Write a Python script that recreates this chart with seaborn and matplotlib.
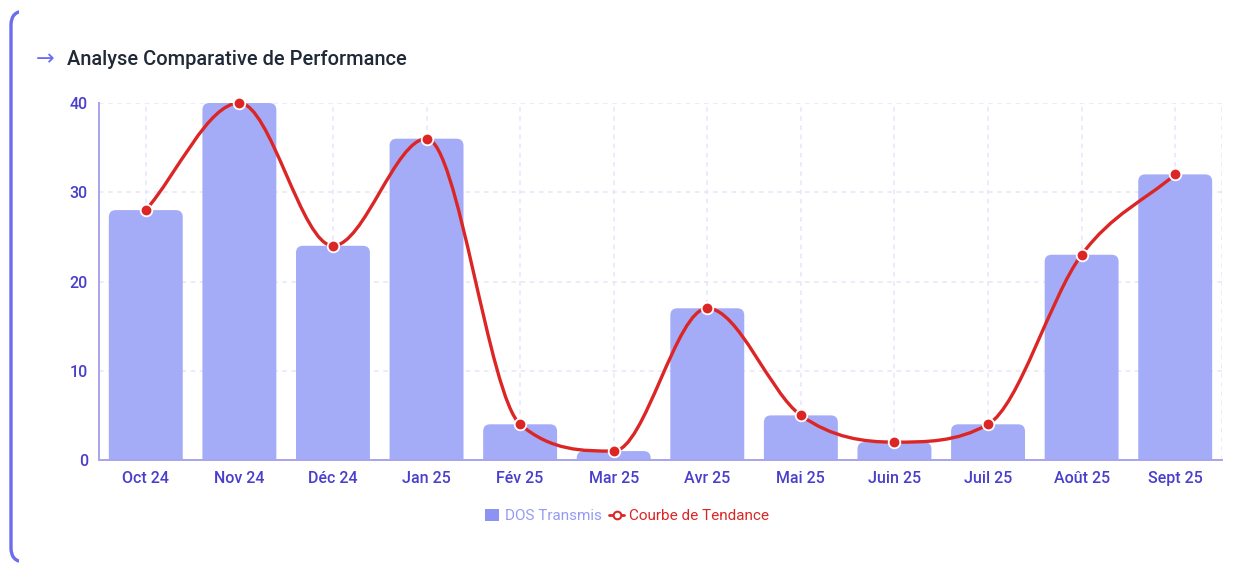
import numpy as np
import pandas as pd
import matplotlib
matplotlib.use("Agg")
import matplotlib.pyplot as plt
import seaborn as sns
from matplotlib.patches import FancyBboxPatch, Rectangle
from matplotlib.path import Path
from matplotlib.patches import PathPatch
from matplotlib.lines import Line2D
from matplotlib.transforms import Bbox

# ---- data ----
months = ["Oct 24", "Nov 24", "Déc 24", "Jan 25", "Fév 25", "Mar 25",
          "Avr 25", "Mai 25", "Juin 25", "Juil 25", "Août 25", "Sept 25"]
dos_transmis = [28, 40, 24, 36, 4, 1, 17, 5, 2, 4, 23, 32]
tendance = [28, 40, 24, 36, 4, 1, 17, 5, 2, 4, 23, 32]
y_ticks = [0, 10, 20, 30, 40]
title = "Analyse Comparative de Performance"
bar_label = "DOS Transmis"
line_label = "Courbe de Tendance"

BAR_C = "#a5acf7"
LINE_C = "#dc2626"
TICK_C = "#4a3fcc"
AXIS_C = "#a8a4ee"
GRID_C = "#e6e6fb"

sns.set_theme(style="white")
plt.rcParams['font.family'] = ['Roboto', 'DejaVu Sans']

W, H = 1244, 565
fig = plt.figure(figsize=(W / 100, H / 100), dpi=100)
fig.patch.set_facecolor("white")

# card left border (rounded)
card = FancyBboxPatch((11, 3), 1400, 551, boxstyle="round,pad=0,rounding_size=14",
                      transform=None, facecolor="none", edgecolor="#6b6cf2", lw=2.4)
fig.patches.append(card)
card.set_clip_box(Bbox.from_extents(0, 0, 19, H))

L, R, T, B = 99, 1222, 103, 460
ax = fig.add_axes([L / W, 1 - B / H, (R - L) / W, (B - T) / H])

df = pd.DataFrame({"mois": months, "val": dos_transmis})
sns.barplot(data=df, x="mois", y="val", color=BAR_C, saturation=1, width=0.79,
            ax=ax, zorder=2)

# round bar tops
px_per_x = (R - L) / len(months)
px_per_y = (B - T) / 40.0
aspect = px_per_x / px_per_y
rad_px = 7
old = [p for p in ax.patches]
for p in old:
    x0, w, h = p.get_x(), p.get_width(), p.get_height()
    rad = rad_px / px_per_x
    rp = FancyBboxPatch((x0, -3), w, h + 3,
                        boxstyle=f"round,pad=0,rounding_size={rad}",
                        mutation_aspect=aspect, facecolor=BAR_C, edgecolor="none",
                        zorder=2)
    ax.add_patch(rp)
    p.set_visible(False)

# monotone cubic trend curve (Fritsch-Carlson, as Chart.js 'monotone')
xs = np.arange(len(months), dtype=float)
ys = np.array(tendance, dtype=float)
n = len(xs)
dk = np.diff(ys) / np.diff(xs)
mk = np.zeros(n)
mk[0], mk[-1] = dk[0], dk[-1]
for i in range(1, n - 1):
    if dk[i - 1] == 0 or dk[i] == 0 or np.sign(dk[i - 1]) != np.sign(dk[i]):
        mk[i] = 0
    else:
        mk[i] = (dk[i - 1] + dk[i]) / 2
for i in range(n - 1):
    if dk[i] == 0:
        mk[i] = mk[i + 1] = 0
        continue
    a, b = mk[i] / dk[i], mk[i + 1] / dk[i]
    sq = a * a + b * b
    if sq > 9:
        tau = 3 / np.sqrt(sq)
        mk[i] = a * tau * dk[i]
        mk[i + 1] = b * tau * dk[i]
verts = [(xs[0], ys[0])]
codes = [Path.MOVETO]
for i in range(n - 1):
    dx = (xs[i + 1] - xs[i]) / 3
    verts += [(xs[i] + dx, ys[i] + mk[i] * dx),
              (xs[i + 1] - dx, ys[i + 1] - mk[i + 1] * dx),
              (xs[i + 1], ys[i + 1])]
    codes += [Path.CURVE4] * 3
path = Path(verts, codes)
ax.add_patch(PathPatch(path, facecolor="none", edgecolor=LINE_C, lw=2.4,
                       zorder=3, capstyle="round"))
sns.scatterplot(x=xs, y=ys, ax=ax, color=LINE_C, s=70, edgecolor="white",
                linewidth=1.3, zorder=4, legend=False, clip_on=False)

ax.set_xlim(-0.5, len(months) - 0.5)
ax.set_ylim(0, 40)
ax.set_yticks(y_ticks)
ax.set_xticks(range(len(months)))
ax.set_xticklabels(months)
ax.set_xlabel("")
ax.set_ylabel("")
if ax.get_legend() is not None:
    ax.get_legend().remove()

for s in ["top", "right"]:
    ax.spines[s].set_visible(False)
for s in ["left", "bottom"]:
    ax.spines[s].set_color(AXIS_C)
    ax.spines[s].set_linewidth(1.4)
ax.tick_params(axis="both", colors=AXIS_C, length=5, width=1.2, labelcolor=TICK_C,
               labelsize=11.5, pad=3)
for lab in ax.get_xticklabels() + ax.get_yticklabels():
    lab.set_fontweight("medium")

# grid
ax.grid(False)
for v in y_ticks[1:]:
    ax.axhline(v, color=GRID_C, lw=1.1, ls=(0, (3, 3)), zorder=1)
for i in range(len(months)):
    ax.axvline(i, color=GRID_C, lw=1.1, ls=(0, (3, 3)), zorder=1)
ax.axvline(len(months) - 0.5, color=GRID_C, lw=1.1, ls=(0, (3, 3)), zorder=1)

# title
fig.text(36 / W, 1 - 59 / H, "→", color="#6b6cf2", fontsize=16, va="center",
         ha="left", family=["DejaVu Sans"])
fig.text(67 / W, 1 - 60 / H, title, color="#1f2937", fontsize=14.4, va="center",
         ha="left", fontweight="medium")

# legend
handles = [
    Rectangle((0, 0), 1, 1, facecolor="#8d93f3", edgecolor="none"),
    Line2D([0], [0], color=LINE_C, lw=2, marker="o", markersize=5.5,
           markerfacecolor="white", markeredgecolor=LINE_C, markeredgewidth=1.5),
]
leg = fig.legend(handles, [bar_label, line_label], loc="center",
                 bbox_to_anchor=(627 / W, 1 - 516 / H), ncol=2, frameon=False,
                 fontsize=11, handlelength=0.95, handleheight=0.9,
                 handletextpad=0.35, columnspacing=0.5)
leg.get_texts()[0].set_color("#959bf5")
leg.get_texts()[1].set_color(LINE_C)

fig.savefig("out.png", dpi=100, facecolor="white")
